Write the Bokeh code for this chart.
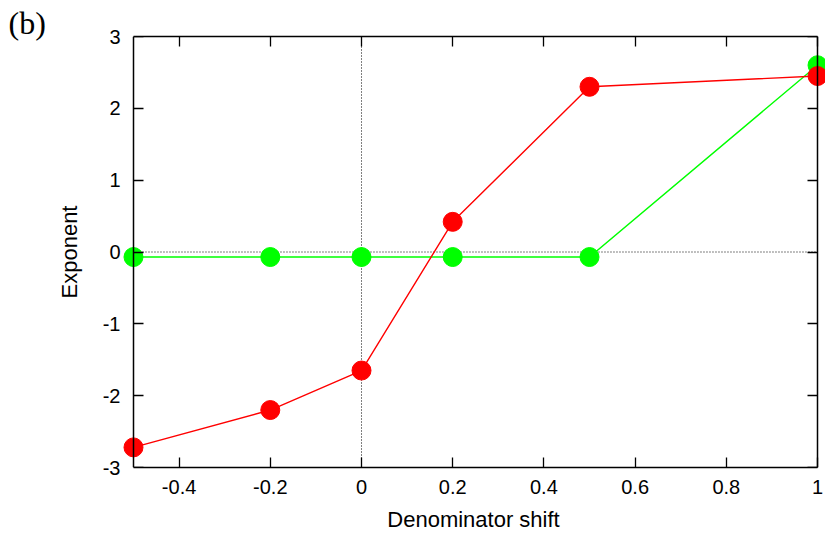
from bokeh.plotting import figure
from bokeh.models import LinearAxis, FixedTicker, Range1d
from bokeh.embed import file_html
from bokeh.resources import INLINE

shift = [-0.5, -0.2, 0.0, 0.2, 0.5, 1.0]
green_vals = [-0.07, -0.07, -0.07, -0.07, -0.07, 2.6]
red_vals = [-2.72, -2.2, -1.65, 0.42, 2.3, 2.45]
x_ticks = [-0.4, -0.2, 0.0, 0.2, 0.4, 0.6, 0.8, 1.0]
x_tick_labels = ["-0.4", "-0.2", "0", "0.2", "0.4", "0.6", "0.8", "1"]
y_ticks = [-3, -2, -1, 0, 1, 2, 3]
y_tick_labels = ["-3", "-2", "-1", "0", "1", "2", "3"]
x_min, x_max = -0.5, 1.0
y_min, y_max = -3.0, 3.0

FONT = "Liberation Sans"

# pad the x range a little so that the edge markers are not clipped; the box sides are drawn by axes
x_pad_l, x_pad_r = 0.0263, 0.0175

p = figure(width=825, height=535, output_backend="svg", toolbar_location=None,
           x_range=Range1d(x_min - x_pad_l, x_max + x_pad_r),
           y_range=Range1d(y_min, y_max),
           min_border_left=121, min_border_right=0, min_border_top=36, min_border_bottom=68)
p.grid.visible = False
p.outline_line_color = None

p.title.text = "(b)"
p.title.align = "left"
p.title.offset = -113
p.title.standoff = -9
p.title.text_font = "Liberation Serif"
p.title.text_font_size = "32px"
p.title.text_font_style = "normal"
p.title.text_color = "black"


def style(ax):
    ax.axis_line_width = 1.5
    ax.axis_line_color = "black"
    ax.major_tick_line_width = 1.3
    ax.major_tick_line_color = "black"
    ax.minor_tick_line_color = None
    ax.major_tick_in = 10
    ax.major_tick_out = 0
    ax.major_label_text_font = FONT
    ax.major_label_text_font_size = "20px"
    ax.major_label_text_color = "black"
    ax.axis_label_text_font = FONT
    ax.axis_label_text_font_size = "22px"
    ax.axis_label_text_font_style = "normal"
    ax.axis_label_text_color = "black"


# bottom side: labelled x axis
xa = p.xaxis[0]
xa.ticker = FixedTicker(ticks=x_ticks)
xa.major_label_overrides = {t: l for t, l in zip(x_ticks, x_tick_labels)}
xa.axis_label = "Denominator shift"
xa.bounds = (x_min, x_max)
style(xa)
xa.major_label_standoff = 12
xa.axis_label_standoff = 10

# left side: labels at the frame edge, box line drawn by a separate axis at x_min
ya = p.yaxis[0]
ya.ticker = FixedTicker(ticks=y_ticks)
ya.major_label_overrides = {t: l for t, l in zip(y_ticks, y_tick_labels)}
ya.axis_label = "Exponent"
style(ya)
ya.axis_line_color = None
ya.major_tick_line_color = None
ya.major_tick_in = 0
ya.major_label_standoff = 1
ya.axis_label_standoff = 18

# top side
top = LinearAxis(ticker=FixedTicker(ticks=x_ticks), bounds=(x_min, x_max),
                 major_label_overrides={t: "" for t in x_ticks})
style(top)
top.major_label_standoff = 0
p.add_layout(top, "above")


def box_axis(loc, side):
    ax = LinearAxis(ticker=FixedTicker(ticks=y_ticks), fixed_location=loc, bounds=(y_min, y_max),
                    major_label_overrides={t: "" for t in y_ticks})
    style(ax)
    ax.major_label_standoff = 0
    p.add_layout(ax, side)


box_axis(x_min, "left")
box_axis(x_max, "right")

# dotted zero lines inside the box
p.segment(x0=[0.0], y0=[y_min], x1=[0.0], y1=[y_max], line_color="black", line_dash="1 2", line_width=1)
p.segment(x0=[x_min], y0=[0.0], x1=[x_max], y1=[0.0], line_color="black", line_dash="1 2", line_width=1)

p.line(shift, green_vals, line_color="#00ff00", line_width=1.4)
p.scatter(shift, green_vals, size=19, fill_color="#00ff00", line_color="#00ff00", line_width=1)
p.line(shift, red_vals, line_color="#ff0000", line_width=1.4)
p.scatter(shift, red_vals, size=19, fill_color="#ff0000", line_color="#ff0000", line_width=1)

open("out.html", "w").write(file_html(p, INLINE))
